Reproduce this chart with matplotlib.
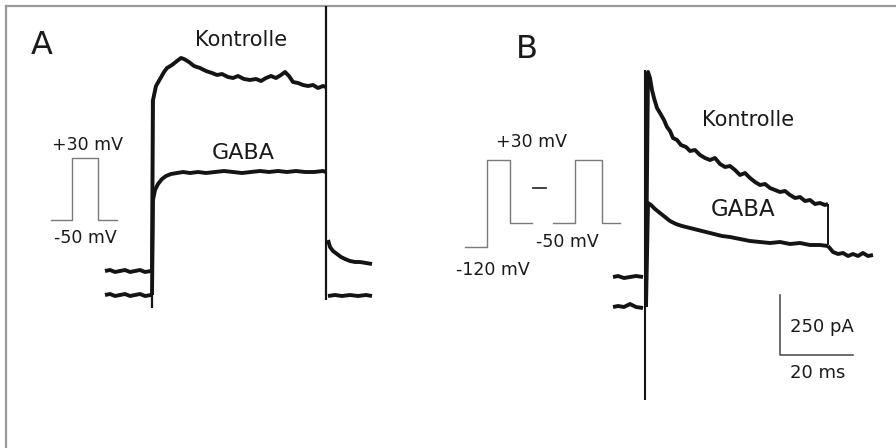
'''
Patch-clamp current traces, Kontrolle vs GABA (panels A and B)
'''

import matplotlib
matplotlib.use('Agg')
import matplotlib.pyplot as plt

# everything in picture units (x right, y down)

# panel A, Kontrolle trace (before step, step, after step)
a_ctrl_pre_x = [105, 110, 115, 120, 125, 130, 135, 140, 145, 151]
a_ctrl_pre_y = [271, 270, 272, 271, 270, 272, 271, 270, 272, 271]
a_ctrl_x = [152, 153, 156, 160, 164, 167, 172, 177, 181, 184, 189, 194, 200, 206, 212, 217, 222,
            228, 233, 238, 244, 250, 256, 261, 266, 271, 276, 281, 285, 289, 293, 298, 303, 308,
            313, 318, 323, 326]
a_ctrl_y = [271, 100, 86, 79, 72, 68, 65, 61, 58, 59, 62, 66, 68, 71, 73, 75, 74,
            77, 78, 76, 79, 80, 79, 81, 78, 76, 78, 75, 72, 76, 82, 83, 85, 86,
            85, 88, 86, 87]
a_ctrl_post_x = [328, 330, 333, 337, 341, 345, 350, 355, 360, 366, 372]
a_ctrl_post_y = [240, 247, 251, 254, 257, 259, 261, 262, 262, 263, 264]

# panel A, GABA trace
a_gaba_pre_x = [105, 110, 115, 120, 125, 130, 135, 140, 145, 151]
a_gaba_pre_y = [295, 294, 296, 295, 294, 296, 295, 294, 296, 295]
a_gaba_x = [152, 153, 155, 158, 162, 166, 171, 177, 183, 190, 198, 206, 215, 224, 233, 242,
            251, 260, 269, 278, 287, 296, 305, 314, 323, 326]
a_gaba_y = [295, 200, 190, 184, 179, 176, 174, 173, 172, 173, 172, 173, 172, 171, 172, 173,
            172, 171, 172, 171, 172, 171, 172, 172, 171, 172]
a_gaba_post_x = [328, 335, 342, 350, 358, 366, 372]
a_gaba_post_y = [296, 295, 296, 295, 296, 295, 296]
a_step_x = 326
a_step_y = [6, 300]
a_on_x = 152
a_on_y = [100, 308]

# panel B, Kontrolle trace
b_ctrl_pre_x = [613, 618, 624, 630, 636, 643]
b_ctrl_pre_y = [277, 276, 278, 277, 276, 277]
b_ctrl_x = [646, 648, 650, 652, 654, 657, 660, 664, 667, 670, 673, 677, 681, 686, 690, 695,
            700, 705, 710, 715, 720, 725, 730, 735, 740, 745, 750, 755, 760, 765, 770, 775,
            780, 785, 790, 795, 800, 805, 810, 815, 820, 825, 828]
b_ctrl_y = [277, 72, 78, 90, 98, 108, 113, 120, 127, 131, 138, 140, 145, 147, 151, 150,
            155, 158, 160, 158, 164, 167, 166, 170, 175, 173, 178, 182, 185, 184, 188, 190,
            192, 191, 195, 198, 197, 201, 200, 204, 203, 205, 204]
b_drop_x = 828
b_drop_y = [204, 245]
b_gaba_pre_x = [613, 618, 624, 630, 636, 643]
b_gaba_pre_y = [307, 306, 307, 304, 307, 308]
b_gaba_x = [646, 648, 651, 655, 660, 665, 670, 676, 682, 690, 698, 706, 714, 722, 730, 740,
            750, 760, 770, 780, 790, 800, 810, 820, 828]
b_gaba_y = [307, 203, 205, 209, 213, 217, 221, 224, 226, 228, 230, 232, 234, 236, 237, 239,
            241, 242, 243, 242, 244, 243, 245, 245, 246]
b_tail_x = [828, 833, 838, 843, 848, 853, 858, 863, 868, 873]
b_tail_y = [246, 252, 254, 253, 256, 254, 256, 253, 256, 255]
b_on_x = 645
b_on_y = [70, 400]

# voltage protocols (gray insets)
a_prot_x = [51, 72, 72, 98, 98, 117]
a_prot_y = [220, 220, 158, 158, 220, 220]
b_prot1_x = [465, 487, 487, 510, 510, 532]
b_prot1_y = [247, 247, 160, 160, 223, 223]
b_prot2_x = [553, 575, 575, 602, 602, 620]
b_prot2_y = [223, 223, 160, 160, 223, 223]

# scale bar: 250 pA and 20 ms
bar_x = [780, 780, 853]
bar_y = [295, 355, 355]

TRACE = '#141414'
GRAY = '#7a7a7a'


def trace(ax, xs, ys, lw=2.8):
    ax.plot(xs, ys, color=TRACE, lw=lw, solid_joinstyle='round', solid_capstyle='butt')


def main():
    plt.rcParams['font.family'] = ['DejaVu Sans']
    fig = plt.figure(figsize=(8.96, 4.48), dpi=100)
    ax = fig.add_axes([0, 0, 1, 1])
    ax.set_xlim(0, 896)
    ax.set_ylim(448, 0)
    ax.axis('off')

    # frame: only top and left edges show
    ax.plot([6, 896], [6, 6], color='#9a9a9a', lw=1.6)
    ax.plot([6, 6], [6, 448], color='#9a9a9a', lw=1.6)

    # panel A
    trace(ax, a_ctrl_pre_x, a_ctrl_pre_y)
    trace(ax, a_ctrl_x, a_ctrl_y)
    trace(ax, a_ctrl_post_x, a_ctrl_post_y)
    trace(ax, a_gaba_pre_x, a_gaba_pre_y)
    trace(ax, a_gaba_x, a_gaba_y)
    trace(ax, a_gaba_post_x, a_gaba_post_y)
    trace(ax, [a_on_x, a_on_x], a_on_y, lw=1.6)
    trace(ax, [a_step_x, a_step_x], a_step_y, lw=1.6)

    # panel B
    trace(ax, b_ctrl_pre_x, b_ctrl_pre_y)
    trace(ax, b_ctrl_x, b_ctrl_y)
    trace(ax, [b_drop_x, b_drop_x], b_drop_y, lw=1.4)
    trace(ax, b_gaba_pre_x, b_gaba_pre_y)
    trace(ax, b_gaba_x, b_gaba_y)
    trace(ax, b_tail_x, b_tail_y)
    trace(ax, [b_on_x, b_on_x], b_on_y, lw=1.5)

    for px, py in [(a_prot_x, a_prot_y), (b_prot1_x, b_prot1_y), (b_prot2_x, b_prot2_y)]:
        ax.plot(px, py, color=GRAY, lw=1.0)
    ax.plot([533, 546], [188, 188], color='#333333', lw=1.3)
    ax.plot(bar_x, bar_y, color='#444444', lw=1.1)

    # labels
    kw = dict(ha='center', va='center', color='#1a1a1a')
    ax.text(42, 45, 'A', fontsize=23, **kw)
    ax.text(527, 50, 'B', fontsize=23, **kw)
    ax.text(241, 40, 'Kontrolle', fontsize=15, **kw)
    ax.text(243, 153, 'GABA', fontsize=16, **kw)
    ax.text(748, 120, 'Kontrolle', fontsize=15, **kw)
    ax.text(743, 210, 'GABA', fontsize=16.5, **kw)
    ax.text(87, 145, '+30 mV', fontsize=12.5, **kw)
    ax.text(85, 238, '-50 mV', fontsize=12.5, **kw)
    ax.text(532, 142, '+30 mV', fontsize=12.5, **kw)
    ax.text(567, 242, '-50 mV', fontsize=12.5, **kw)
    ax.text(493, 270, '-120 mV', fontsize=12.5, **kw)
    ax.text(822, 327, '250 pA', fontsize=13, **kw)
    ax.text(818, 373, '20 ms', fontsize=13, **kw)

    fig.savefig('out.png', dpi=100, facecolor='white')


if __name__ == '__main__':
    main()
